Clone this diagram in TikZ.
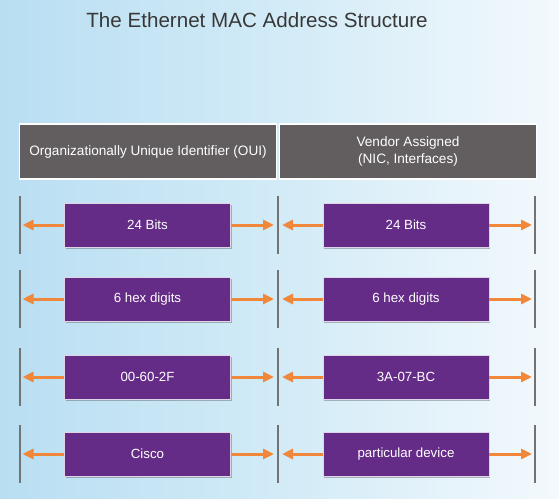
\documentclass[tikz,border=0pt]{standalone}
\usepackage{fontspec}
\setmainfont{Liberation Sans}
\usetikzlibrary{arrows.meta,shadows}
\definecolor{hdr}{HTML}{625D5E}
\definecolor{purp}{HTML}{652C87}
\definecolor{orng}{HTML}{F0873A}
\definecolor{barg}{HTML}{737373}
\definecolor{bgL}{HTML}{B9DEF2}
\definecolor{bgM}{HTML}{D2EBF7}
\definecolor{bgR}{HTML}{F3F9FD}
\tikzset{
  hdrbox/.style={draw=white, line width=1.6pt, fill=hdr, text=white, font=\fontsize{13.6}{17}\selectfont,
    minimum width=257pt, minimum height=55pt, inner sep=0pt, align=center},
  purpbox/.style={draw=white!80!purp, line width=0.6pt, fill=purp, text=white, font=\fontsize{13.3}{16}\selectfont,
    minimum width=166pt, minimum height=44pt, inner sep=0pt,
    drop shadow={shadow xshift=1pt, shadow yshift=-2pt, fill=black, opacity=0.25}},
  arr/.style={draw=orng, line width=3pt, -{Triangle[width=10pt,length=11pt]}},
  bar/.style={draw=barg, line width=2pt}
}
\begin{document}
\begin{tikzpicture}[x=1pt,y=-1pt]
\shade[left color=bgL, right color=bgR, middle color=bgM] (0,0) rectangle (559,498);
\useasboundingbox (0,0) rectangle (559,498);
\node[text=black!78, font=\fontsize{20.6}{24}\selectfont] (title) at (257,20) {The Ethernet MAC Address Structure};
\node[hdrbox] (oui) at (148,151.5) {Organizationally Unique Identifier (OUI)};
\node[hdrbox] (ven) at (408,151.5) {Vendor Assigned\\(NIC, Interfaces)};
\foreach \y/\a/\b/\n in {225/24 Bits/24 Bits/1, 299/6 hex digits/6 hex digits/2, 377/00-60-2F/3A-07-BC/3, 454/Cisco/particular device/4}{
  \node[purpbox] (L\n) at (147.5,\y) {\a};
  \node[purpbox] (R\n) at (406,\y) {\b};
  \coordinate (bl\n) at (20,\y);
  \coordinate (bm\n) at (278,\y);
  \coordinate (br\n) at (535,\y);
  \draw[bar] ([yshift=29pt]bl\n) -- ([yshift=-29pt]bl\n);
  \draw[bar] ([yshift=29pt]bm\n) -- ([yshift=-29pt]bm\n);
  \draw[bar] ([yshift=29pt]br\n) -- ([yshift=-29pt]br\n);
  \draw[arr, shorten >=2.5pt] (L\n.west) -- (bl\n);
  \draw[arr, shorten >=4pt] (L\n.east) -- (bm\n);
  \draw[arr, shorten >=4pt] (R\n.west) -- (bm\n);
  \draw[arr, shorten >=3pt] (R\n.east) -- (br\n);
}
\end{tikzpicture}
\end{document}
